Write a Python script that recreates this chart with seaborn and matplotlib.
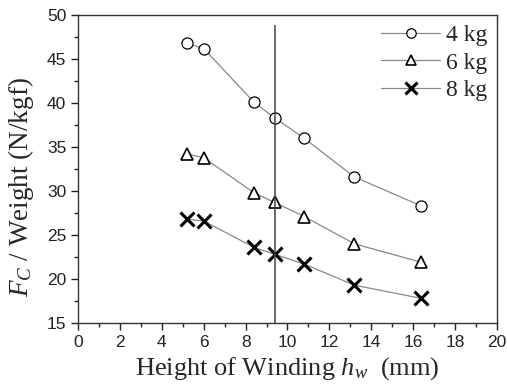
import numpy as np
import pandas as pd
import matplotlib
matplotlib.use('Agg')
import matplotlib.pyplot as plt
from matplotlib.ticker import MultipleLocator
import seaborn as sns

# data
height_mm = [5.2, 6.0, 8.4, 9.4, 10.8, 13.2, 16.4]
fc_4kg = [46.8, 46.2, 40.1, 38.3, 36.0, 31.6, 28.3]
fc_6kg = [34.2, 33.8, 29.8, 28.7, 27.1, 24.0, 21.9]
fc_8kg = [26.8, 26.6, 23.6, 22.8, 21.7, 19.3, 17.8]
series_names = ['4 kg', '6 kg', '8 kg']
marker_line_x = 9.4

df = pd.DataFrame({
    'h': height_mm * 3,
    'fc': fc_4kg + fc_6kg + fc_8kg,
    'load': np.repeat(series_names, len(height_mm)),
})

sns.set_style('ticks')
plt.rcParams['font.family'] = ['Liberation Sans', 'DejaVu Sans']
plt.rcParams['mathtext.fontset'] = 'custom'
plt.rcParams['mathtext.rm'] = 'Liberation Serif'
plt.rcParams['mathtext.it'] = 'Liberation Serif:italic'

fig = plt.figure(figsize=(5.07, 3.88), dpi=100)
ax = fig.add_axes([0.154, 0.1675, 0.826, 0.7935])

styles = {
    '4 kg': dict(marker='o', ms=8, mfc='white', mec='black', mew=0.9),
    '6 kg': dict(marker='^', ms=9, mfc='white', mec='black', mew=1.2),
    '8 kg': dict(marker='x', ms=10, mec='black', mew=2.2),
}
for name in series_names:
    sub = df[df['load'] == name]
    sns.lineplot(data=sub, x='h', y='fc', ax=ax, color='#888888', lw=0.9,
                 label=name, **styles[name])

ax.vlines(marker_line_x, 15, 48.9, color='#444444', lw=1.1)

ax.set_xlim(0, 20)
ax.set_ylim(15, 50)
ax.xaxis.set_major_locator(MultipleLocator(2))
ax.xaxis.set_minor_locator(MultipleLocator(1))
ax.yaxis.set_major_locator(MultipleLocator(5))
ax.yaxis.set_minor_locator(MultipleLocator(2.5))
ax.tick_params(which='major', direction='out', length=5, width=1, labelsize=12.5, colors='#222222')
ax.tick_params(which='minor', direction='out', length=3, width=1)
for s in ax.spines.values():
    s.set_color('#333333')
    s.set_linewidth(1)

ax.set_xlabel('Height of Winding $h_{w}$  (mm)', family='Liberation Serif', fontsize=19, labelpad=4)
ax.set_ylabel('$F_{C}$ / Weight (N/kgf)', family='Liberation Serif', fontsize=19.5)
ax.yaxis.set_label_coords(-0.1, 0.44)

leg = ax.legend(loc='upper right', frameon=False, prop={'family': 'Liberation Serif', 'size': 17},
                handlelength=2.5, handletextpad=0.25, labelspacing=0.25, borderaxespad=0.0,
                markerscale=0.85)

fig.savefig('out.png', dpi=100)
